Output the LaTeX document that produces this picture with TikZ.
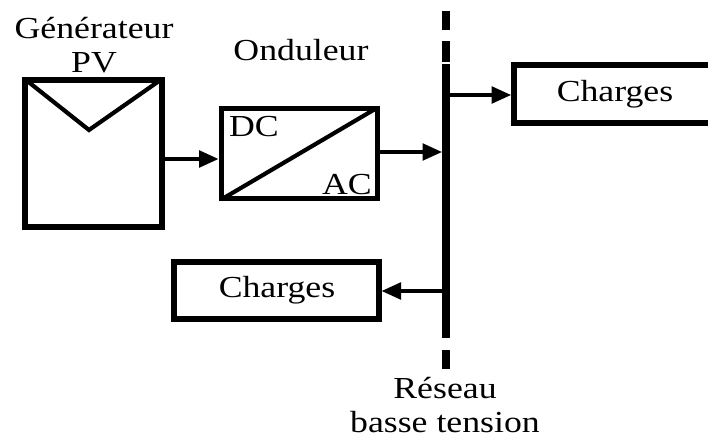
\documentclass[tikz,border=0pt]{standalone}
\usepackage{fontspec}
\setmainfont{Liberation Serif}
\usetikzlibrary{arrows.meta,positioning,calc}
\tikzset{
  lbl/.style={inner sep=0pt,align=center,font=\fontsize{22}{25}\selectfont,transform shape,xscale=1.17},
  blockthin/.style={draw,line width=3.6pt,minimum width=113pt,minimum height=65pt,inner sep=0pt},
  blockthick/.style={draw,line width=4.3pt,inner sep=0pt},
  flow/.style={line width=2.4pt,-{Triangle[length=14pt,width=12pt]}},
  busline/.style={line width=6pt},
  inner line/.style={line width=3pt,shorten >=3pt,shorten <=3pt}
}
\begin{document}
\begin{tikzpicture}[x=0.72pt,y=-0.72pt]
  \useasboundingbox (0,0) rectangle (708,439);
  % Generateur
  \node[blockthick,minimum width=98.5pt,minimum height=106pt] (pv) at (93.5,153.5) {};
  \draw[inner line] (pv.north west) -- (89,130) -- (pv.north east);
  \node[lbl] (pvlabel) at (94,45) {Générateur\\[-1pt]PV};
  % Onduleur
  \node[blockthin] (ond) at (299.5,153.5) {};
  \draw[inner line] (ond.south west) -- (ond.north east);
  \node[lbl] (ondlabel) at (301,50) {Onduleur};
  \node[lbl] (dc) at (254,127) {DC};
  \node[lbl] (ac) at (347,185) {AC};
  % Charges
  \node[blockthick,minimum width=146pt,minimum height=42pt] (top) at (615.5,94) {};
  \node[lbl] at (615,94) (toplabel) {Charges};
  \node[blockthick,minimum width=147pt,minimum height=41pt] (bottom) at (276.5,290.5) {};
  \node[lbl] at (277,290) (bottomlabel) {Charges};
  % Reseau
  \coordinate (bus1) at (446,11);
  \coordinate (bus2) at (446,30);
  \coordinate (bus3) at (446,41);
  \coordinate (bus4) at (446,62);
  \coordinate (bus5) at (446,64);
  \coordinate (bus6) at (446,338);
  \coordinate (bus7) at (446,350);
  \coordinate (bus8) at (446,369);
  \foreach \a/\b in {bus1/bus2,bus3/bus4,bus5/bus6,bus7/bus8}{
    \draw[busline] (\a) -- (\b);
  }
  \node[lbl] (buslabel) at (445,405) {Réseau\\basse tension};
  % Fleches
  \coordinate (in) at (442,152);
  \coordinate (topout) at (446,95);
  \coordinate (botout) at (446,291);
  \draw[flow] (pv.east |- 0,159) -- (ond.west |- 0,159);
  \draw[flow] (ond.east |- in) -- (in);
  \draw[flow] (topout) -- (top.west |- topout);
  \draw[flow] (botout) -- (bottom.east |- botout);
\end{tikzpicture}
\end{document}
